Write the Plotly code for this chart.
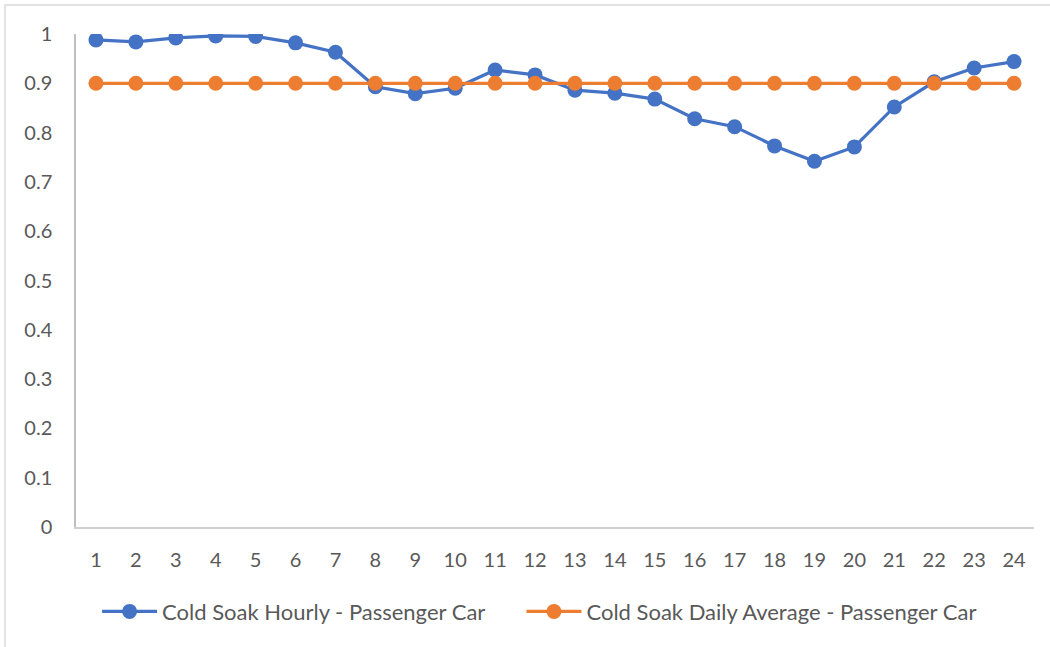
import plotly.graph_objects as go

hours = [str(h) for h in range(1, 25)]
hourly = [0.988, 0.984, 0.992, 0.996, 0.995, 0.982, 0.963, 0.893, 0.879, 0.890,
          0.927, 0.917, 0.886, 0.880, 0.868, 0.828, 0.812, 0.773, 0.742, 0.771,
          0.852, 0.903, 0.931, 0.944]
daily_avg = [0.9] * 24
y_ticks = [0, 0.1, 0.2, 0.3, 0.4, 0.5, 0.6, 0.7, 0.8, 0.9, 1]
y_tick_text = ["0", "0.1", "0.2", "0.3", "0.4", "0.5", "0.6", "0.7", "0.8", "0.9", "1"]

FONT = "Lato, sans-serif"
BLUE = "#4472C4"
ORANGE = "#ED7D31"
TXT = "#595959"

fig = go.Figure()
fig.add_trace(go.Scatter(x=hours, y=hourly, mode="lines+markers",
                         name="Cold Soak Hourly - Passenger Car",
                         line=dict(color=BLUE, width=3.2),
                         marker=dict(color=BLUE, size=15), legend="legend"))
fig.add_trace(go.Scatter(x=hours, y=daily_avg, mode="lines+markers",
                         name="Cold Soak Daily Average - Passenger Car",
                         line=dict(color=ORANGE, width=3.2),
                         marker=dict(color=ORANGE, size=15), legend="legend2"))

leg_common = dict(orientation="h", yanchor="top", y=-0.129, xanchor="left",
                  font=dict(size=22, color=TXT), itemwidth=55,
                  bgcolor="rgba(0,0,0,0)")

fig.update_layout(
    width=1050, height=647,
    margin=dict(l=76, r=16, t=34, b=120),
    paper_bgcolor="white", plot_bgcolor="white",
    font=dict(family=FONT, size=20, color=TXT),
    showlegend=True,
    legend=dict(x=0.022, **leg_common),
    legend2=dict(x=0.465, **leg_common),
    xaxis=dict(type="category", range=[-0.5, 23.5], showgrid=False, showline=True,
               linecolor="#D0D0D0", linewidth=1.5, ticks="", ticklabelstandoff=14,
               zeroline=False, tickfont=dict(size=20, color=TXT)),
    yaxis=dict(range=[0, 1], showgrid=False, showline=True, linecolor="#BFBFBF",
               linewidth=1.5, ticks="", tickvals=y_ticks, ticktext=y_tick_text,
               ticklabelstandoff=18, zeroline=False,
               tickfont=dict(size=20, color=TXT)),
    shapes=[dict(type="rect", xref="paper", yref="paper",
                 x0=-0.0741, x1=1.2, y0=-0.5, y1=1.0588,
                 line=dict(color="#D9D9D9", width=1.5), layer="below")],
)

fig.write_html("out.html", config={"displayModeBar": False},
               post_script="document.body.style.margin='0';document.body.style.overflow='hidden';")
